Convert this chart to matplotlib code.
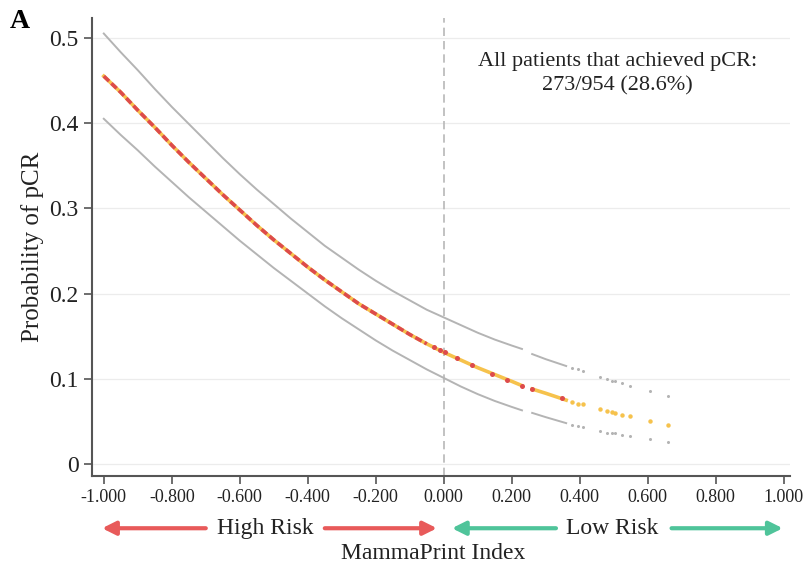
import numpy as np
import matplotlib.pyplot as plt

plt.rcParams['font.family'] = ['Liberation Serif', 'DejaVu Serif']
plt.rcParams['axes.unicode_minus'] = False

# dense part of the fitted curve (MammaPrint index, probability, 95% CI)
seg1_x = [-1.0, -0.95, -0.9, -0.85, -0.8, -0.75, -0.7, -0.65, -0.6, -0.55, -0.5, -0.45, -0.4,
          -0.35, -0.3, -0.25, -0.2, -0.15, -0.1, -0.05, 0.0, 0.05, 0.1, 0.15, 0.2, 0.23]
seg1_mid = [0.455, 0.436, 0.415, 0.395, 0.374, 0.354, 0.335, 0.316, 0.298, 0.280, 0.263, 0.247, 0.231,
            0.216, 0.202, 0.188, 0.176, 0.164, 0.152, 0.141, 0.131, 0.122, 0.113, 0.105, 0.097, 0.092]
seg1_up = [0.505, 0.483, 0.462, 0.440, 0.419, 0.399, 0.379, 0.359, 0.340, 0.322, 0.305, 0.288, 0.272,
           0.256, 0.242, 0.228, 0.215, 0.203, 0.192, 0.181, 0.172, 0.163, 0.154, 0.146, 0.139, 0.135]
seg1_lo = [0.405, 0.386, 0.368, 0.349, 0.331, 0.313, 0.296, 0.279, 0.262, 0.246, 0.230, 0.215, 0.200,
           0.185, 0.171, 0.158, 0.145, 0.133, 0.122, 0.111, 0.101, 0.091, 0.082, 0.074, 0.067, 0.063]

seg2_x = [0.26, 0.30, 0.36]
seg2_mid = [0.088, 0.083, 0.075]
seg2_up = [0.129, 0.123, 0.115]
seg2_lo = [0.060, 0.055, 0.048]

# isolated patients at high index
sparse_x = [0.376, 0.394, 0.409, 0.459, 0.479, 0.494, 0.503, 0.524, 0.547, 0.606, 0.659]
sparse_mid = [0.073, 0.071, 0.070, 0.064, 0.062, 0.061, 0.060, 0.058, 0.056, 0.051, 0.046]
sparse_up = [0.113, 0.111, 0.109, 0.102, 0.100, 0.098, 0.097, 0.095, 0.092, 0.086, 0.080]
sparse_lo = [0.046, 0.045, 0.043, 0.039, 0.037, 0.036, 0.036, 0.034, 0.033, 0.029, 0.026]

# patients who achieved pCR (red marks)
red_x = [-0.03, -0.01, 0.003, 0.04, 0.083, 0.141, 0.185, 0.23, 0.26, 0.347]
red_y = [0.137, 0.134, 0.131, 0.124, 0.116, 0.106, 0.099, 0.092, 0.088, 0.077]
red_line_x = seg1_x[:20]
red_line_y = seg1_mid[:20]

xticks = [-1.0, -0.8, -0.6, -0.4, -0.2, 0.0, 0.2, 0.4, 0.6, 0.8, 1.0]
yticks = [0, 0.1, 0.2, 0.3, 0.4, 0.5]

ORANGE = '#f6c24c'
RED = '#dd4b4b'
GREY = '#b4b4b4'
ARROW_RED = '#e85a5a'
ARROW_GREEN = '#4fc49a'

fig = plt.figure(figsize=(8.06, 5.68), dpi=100)
ax = fig.add_axes([0.114, 0.162, 0.866, 0.806])

for yt in yticks:
    ax.axhline(yt, color='#ececec', lw=0.9, zorder=0)
ax.axvline(0, color='#b8b8b8', lw=1.2, ls=(0, (5, 3)), zorder=1)

for xs, up, lo in [(seg1_x, seg1_up, seg1_lo), (seg2_x, seg2_up, seg2_lo)]:
    ax.plot(xs, up, color=GREY, lw=1.4, zorder=2)
    ax.plot(xs, lo, color=GREY, lw=1.4, zorder=2)
ax.plot(sparse_x, sparse_up, ls='none', marker='o', ms=2.2, color=GREY, mec='none', zorder=2)
ax.plot(sparse_x, sparse_lo, ls='none', marker='o', ms=2.2, color=GREY, mec='none', zorder=2)

ax.plot(seg1_x, seg1_mid, color=ORANGE, lw=2.6, zorder=3)
ax.plot(seg2_x, seg2_mid, color=ORANGE, lw=2.6, zorder=3)
ax.plot(sparse_x, sparse_mid, ls='none', marker='o', ms=3.2, color=ORANGE, mec='none', zorder=3)

ax.plot(red_line_x, red_line_y, color=RED, lw=2.6, dashes=(2.0, 0.9), zorder=4)
ax.plot(red_x, red_y, ls='none', marker='o', ms=3.6, color=RED, mec='none', zorder=4)

ax.set_xlim(-1.035, 1.018)
ax.set_ylim(-0.014, 0.523)
ax.set_xticks(xticks)
ax.set_xticklabels(['%.3f' % t for t in xticks], fontsize=13)
ax.set_yticks(yticks)
ax.set_yticklabels(['0', '0.1', '0.2', '0.3', '0.4', '0.5'], fontsize=17)
ax.tick_params(axis='both', direction='out', length=6, width=1.2, color='#555555', labelcolor='#222222')
for side in ['top', 'right']:
    ax.spines[side].set_visible(False)
for side in ['left', 'bottom']:
    ax.spines[side].set_color('#555555')
    ax.spines[side].set_linewidth(1.5)

ax.set_ylabel('Probability of pCR', fontsize=18, color='#222222', labelpad=4)
ax.text(0.51, 0.458, 'All patients that achieved pCR:\n273/954 (28.6%)', fontsize=16,
        ha='center', va='center', color='#222222', linespacing=1.35)
fig.text(0.012, 0.962, 'A', fontsize=20, fontweight='bold', va='center', ha='left')

# risk arrows below the axis
ay = 0.070
arrow = dict(arrowstyle='-|>,head_length=0.8,head_width=0.4', lw=3, shrinkA=0, shrinkB=0)
for start, tip, col in [(-0.70, -1.005, ARROW_RED), (-0.35, -0.02, ARROW_RED),
                        (0.33, 0.024, ARROW_GREEN), (0.67, 0.997, ARROW_GREEN)]:
    ax.annotate('', xy=(tip, ay), xytext=(start, ay), xycoords=('data', 'figure fraction'),
                textcoords=('data', 'figure fraction'), annotation_clip=False,
                arrowprops=dict(arrow, color=col))
for label, xc in [('High Risk', -0.526), ('Low Risk', 0.494), ('MammaPrint Index', -0.03)]:
    yc = ay if label != 'MammaPrint Index' else 0.026
    ax.annotate(label, xy=(xc, yc), xycoords=('data', 'figure fraction'),
                fontsize=17, ha='center', va='center', color='#222222', annotation_clip=False)

fig.savefig('out.png', dpi=100)
